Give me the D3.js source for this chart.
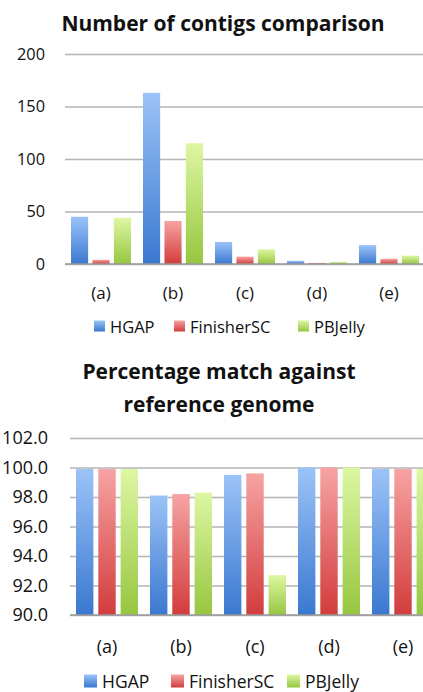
<!DOCTYPE html>
<html><head><meta charset="utf-8">
<script src="https://cdn.jsdelivr.net/npm/d3@7"></script>
<style>body{margin:0;background:#fff}svg{display:block}text{font-family:"Open Sans",sans-serif;fill:#111}</style>
</head><body>
<script>
const categories = ["(a)","(b)","(c)","(d)","(e)"];
const seriesNames = ["HGAP","FinisherSC","PBJelly"];
const contigsHGAP = [45,163,21,3,18];
const contigsFinisher = [4,41,7,1,5];
const contigsPBJelly = [44,115,14,2,8];
const matchHGAP = [99.9,98.1,99.5,100.0,99.9];
const matchFinisher = [99.9,98.2,99.6,100.0,99.9];
const matchPBJelly = [99.9,98.3,92.7,100.0,99.9];
const contigsTicks = [0,50,100,150,200];
const matchTicks = [90,92,94,96,98,100,102];

const W=423,H=692;
const FONT="'Open Sans',sans-serif";
const svg=d3.select("body").append("svg").attr("width",W).attr("height",H);
const defs=svg.append("defs");
const grads=[["gBlue","#9cc3f7","#3a78d0"],["gRed","#f7a3a3","#d23c3c"],["gGreen","#ddf7a3","#97c640"]];
grads.forEach(([id,a,b])=>{
  const g=defs.append("linearGradient").attr("id",id).attr("x1",0).attr("y1",0).attr("x2",0).attr("y2",1);
  g.append("stop").attr("offset","0%").attr("stop-color",a);
  g.append("stop").attr("offset","100%").attr("stop-color",b);
});
const fills=["url(#gBlue)","url(#gRed)","url(#gGreen)"];

function chart(o){
  const g=svg.append("g");
  o.titles.forEach((t,i)=>g.append("text").attr("x",o.titleX).attr("y",o.titleY+i*o.titleDy)
    .attr("text-anchor","middle").attr("font-weight","bold").attr("font-size",o.titleSize).text(t));
  const x=d3.scaleBand().domain(categories).range([o.left,o.right]);
  const x1=d3.scaleBand().domain(seriesNames).range([o.inner0,x.bandwidth()-o.inner0]).paddingInner(o.pad);
  const y=d3.scaleLinear().domain(o.domain).range([o.bottom,o.top]);
  const ax=d3.axisLeft(y).tickValues(o.ticks).tickSize(-(W-o.left)).tickFormat(o.fmt).tickPadding(o.tickPad);
  const ag=g.append("g").attr("transform",`translate(${o.left},0)`).call(ax);
  ag.select(".domain").remove();
  ag.selectAll(".tick line").attr("stroke","#b4b4b4").attr("stroke-width",1.5);
  ag.selectAll(".tick text").attr("font-size",o.tickSize).attr("fill","#111").style("font-family",FONT);
  o.series.forEach((vals,si)=>{
    g.append("g").selectAll("rect").data(vals).join("rect")
      .attr("x",(d,i)=>x(categories[i])+x1(seriesNames[si]))
      .attr("width",x1.bandwidth())
      .attr("y",d=>y(d)).attr("height",d=>y(o.domain[0])-y(d))
      .attr("fill",fills[si]);
  });
  g.append("line").attr("x1",o.left).attr("x2",W).attr("y1",y(o.domain[0])).attr("y2",y(o.domain[0])).attr("stroke","#9a9a9a").attr("stroke-width",1.5);
  g.append("g").selectAll("text").data(categories).join("text")
    .attr("x",d=>x(d)+x.bandwidth()/2).attr("y",o.catY).attr("text-anchor","middle").attr("font-size",o.catSize).text(d=>d);
  const lg=g.append("g");
  seriesNames.forEach((s,i)=>{
    lg.append("rect").attr("x",o.legX[i]).attr("y",o.legY-o.sq/2-1).attr("width",o.sq).attr("height",o.sq).attr("fill",fills[i]);
    lg.append("text").attr("x",o.legX[i]+o.sq+5).attr("y",o.legY+o.legSize*0.36).attr("font-size",o.legSize).text(s);
  });
}

chart({titles:["Number of contigs comparison"],titleX:223,titleY:31,titleDy:0,titleSize:21,
  left:65,right:425,inner0:6,pad:0.2,domain:[0,200],top:54,bottom:264,ticks:contigsTicks,fmt:d3.format("d"),
  tickPad:20,tickSize:16.3,series:[contigsHGAP,contigsFinisher,contigsPBJelly],catY:299,catSize:17,
  legX:[94,174,298],legY:327,sq:11,legSize:16.5});

chart({titles:["Percentage match against","reference genome"],titleX:219,titleY:379,titleDy:33,titleSize:21,
  left:70,right:440,inner0:6,pad:0.22,domain:[90,102],top:438,bottom:615,ticks:matchTicks,fmt:d3.format(".1f"),
  tickPad:22,tickSize:18,series:[matchHGAP,matchFinisher,matchPBJelly],catY:653,catSize:18,
  legX:[84,171,287],legY:682,sq:13,legSize:17.5});
</script>
</body></html>
